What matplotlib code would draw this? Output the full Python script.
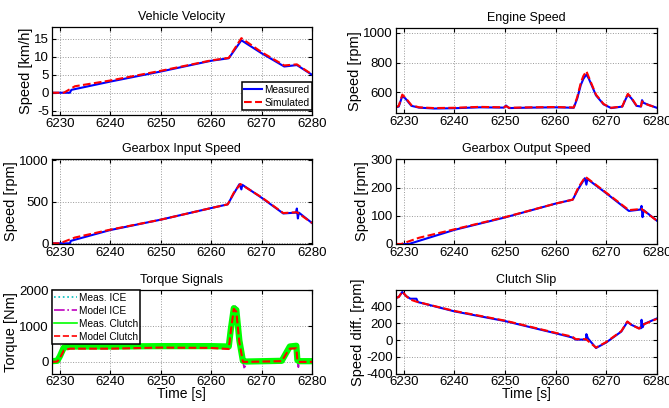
import matplotlib
matplotlib.use("Agg")
import matplotlib.pyplot as plt

plt.rcParams['font.family'] = ['Liberation Sans', 'DejaVu Sans']
plt.rcParams['font.size'] = 10
plt.rcParams['axes.unicode_minus'] = False

XLIM = (6228.4, 6280)
XTICKS = [6230, 6240, 6250, 6260, 6270, 6280]

# vehicle velocity [km/h]
t_vel_meas = [6228.4, 6232.0, 6232.3, 6240, 6250, 6260, 6263.5, 6266.0, 6270, 6274.5, 6277.0, 6280]
vel_meas = [0, 0, 0.8, 3.1, 5.9, 8.9, 9.6, 14.6, 11.0, 7.3, 7.7, 5.0]
t_vel_sim = [6228.4, 6230.8, 6233, 6240, 6250, 6260, 6263.5, 6266.0, 6270, 6274.5, 6277, 6280]
vel_sim = [0, 0, 1.8, 3.4, 6.1, 9.0, 9.7, 15.2, 11.3, 7.6, 7.9, 5.1]

# engine speed [rpm]
t_eng = [6228.4, 6229.0, 6229.7, 6230.3, 6231.5, 6233, 6236, 6240, 6245, 6249.8, 6250.2,
         6250.8, 6255, 6260, 6263.6, 6264.3, 6265.0, 6265.5, 6266.1, 6266.6, 6268, 6269.5,
         6271, 6273.2, 6273.8, 6274.3, 6275, 6276, 6276.9, 6277.1, 6277.4, 6278.5, 6280]
eng_meas = [500, 505, 575, 560, 510, 498, 492, 494, 500, 498, 512, 495, 498, 500, 497, 560,
            650, 690, 720, 690, 580, 520, 495, 505, 550, 585, 560, 510, 505, 548, 530, 515, 497]
eng_sim = [500, 510, 585, 565, 515, 500, 495, 497, 503, 500, 508, 497, 500, 502, 499, 570,
           665, 710, 742, 700, 585, 522, 497, 506, 555, 590, 565, 512, 507, 540, 528, 514, 498]

# gearbox input speed [rpm]
t_gbi_meas = [6228.4, 6232.0, 6232.2, 6240, 6250, 6260, 6263.3, 6264.5, 6265.6, 6266.0,
              6266.2, 6270, 6274.3, 6276.8, 6277.0, 6277.2, 6277.4, 6280]
gbi_meas = [0, 0, 30, 160, 285, 425, 470, 600, 712, 650, 705, 550, 360, 370, 420, 300, 370, 245]
t_gbi_sim = [6228.4, 6230.0, 6233.0, 6240, 6250, 6260, 6263.3, 6264.5, 6265.8, 6270, 6274.3, 6277, 6280]
gbi_sim = [0, 0, 70, 165, 285, 425, 470, 610, 715, 555, 365, 375, 245]

# gearbox output speed [rpm]
t_gbo_meas = [6228.4, 6231.0, 6240, 6250, 6260, 6263.4, 6264.5, 6265.8, 6266.1, 6266.3,
              6270, 6274.5, 6276.8, 6277.0, 6277.2, 6277.4, 6280]
gbo_meas = [0, 0, 50, 94, 143, 157, 195, 233, 210, 230, 180, 117, 122, 135, 95, 120, 83]
t_gbo_sim = [6228.4, 6229.5, 6233, 6240, 6250, 6260, 6263.4, 6264.5, 6265.9, 6270, 6274.5, 6277, 6280]
gbo_sim = [0, 0, 22, 52, 95, 143, 157, 200, 238, 182, 120, 124, 83]

# torque signals [Nm]
t_trq = [6228.4, 6229.5, 6230.0, 6230.8, 6232, 6240, 6250, 6260, 6263.5, 6263.9, 6264.5,
         6265.0, 6265.6, 6266.3, 6266.6, 6267, 6274, 6275.0, 6275.6, 6276.9, 6277.1, 6277.3, 6277.5, 6280]
trq_meas_ice = [10, 40, 160, 390, 410, 400, 420, 420, 400, 880, 1520, 1500, 620, 20, -150, 0, 20,
                260, 400, 420, 40, -100, 20, 10]
trq_model_ice = [0, 30, 140, 360, 380, 380, 400, 400, 380, 900, 1600, 1520, 600, 10, -200, 0, 10,
                 250, 380, 400, 30, -150, 10, 0]
trq_meas_clutch = [20, 30, 150, 400, 430, 430, 440, 440, 430, 900, 1500, 1450, 600, 30, 20, 10, 30,
                   280, 430, 450, 50, 30, 20, 20]
trq_model_clutch = [0, 10, 100, 320, 370, 370, 400, 390, 360, 850, 1480, 1400, 550, 0, 0, 0, 20,
                    250, 370, 380, 30, 0, 0, 0]

# clutch slip [rpm]
t_slip_meas = [6228.4, 6229.0, 6229.7, 6230.5, 6231.3, 6232.5, 6232.8, 6240, 6250, 6260, 6263.3,
               6264, 6266.0, 6266.1, 6266.4, 6268, 6270, 6273, 6274.2, 6275, 6276.5, 6276.9,
               6277.0, 6277.2, 6277.5, 6280]
slip_meas = [500, 510, 570, 520, 490, 490, 450, 340, 225, 80, 30, 5, 5, 70, 20, -95, -30, 100,
             215, 180, 140, 140, 240, 150, 190, 255]
t_slip_sim = [6228.4, 6229.0, 6229.7, 6230.5, 6231.3, 6232.5, 6240, 6250, 6260, 6263.3, 6264,
              6266.0, 6268, 6270, 6273, 6274.2, 6275, 6276.5, 6277.2, 6280]
slip_sim = [500, 510, 575, 520, 480, 455, 345, 230, 85, 40, 10, 10, -90, -25, 105, 220, 180,
            135, 180, 250]


def style(ax, title, ylabel, ylim, yticks, xlabel=None):
    ax.set_xlim(*XLIM)
    ax.set_xticks(XTICKS)
    ax.set_ylim(*ylim)
    ax.set_yticks(yticks)
    ax.set_title(title, fontsize=9, pad=5)
    ax.set_ylabel(ylabel, fontsize=10.5, labelpad=1)
    if xlabel:
        ax.set_xlabel(xlabel, fontsize=10, labelpad=-1)
    ax.grid(True, linestyle=':', color='#999999', linewidth=0.7)
    ax.tick_params(direction='in', top=True, right=True, length=3, labelsize=9.5, pad=2)
    for s in ax.spines.values():
        s.set_linewidth(0.9)


def legend(ax, **kw):
    leg = ax.legend(fontsize=7.3, fancybox=False, framealpha=1, edgecolor='black',
                    handletextpad=0.2, borderpad=0.25, labelspacing=0.3, **kw)
    leg.get_frame().set_linewidth(1.1)
    return leg


fig = plt.figure(figsize=(6.69, 4.08), dpi=100)
W, H = 669.0, 408.0


def box(l, t, r, b):
    return [l / W, (H - b) / H, (r - l) / W, (b - t) / H]


ax1 = fig.add_axes(box(51.7, 27, 312, 115))
ax2 = fig.add_axes(box(395.7, 28, 656.7, 113.3))
ax3 = fig.add_axes(box(51.7, 158.7, 312, 244))
ax4 = fig.add_axes(box(395.7, 158.7, 656.7, 244))
ax5 = fig.add_axes(box(51.7, 290.3, 312, 373.7))
ax6 = fig.add_axes(box(395.7, 290.3, 656.7, 373.7))

ax1.plot(t_vel_meas, vel_meas, color='b', lw=1.5, label='Measured')
ax1.plot(t_vel_sim, vel_sim, color='r', lw=1.5, ls='--', label='Simulated')
style(ax1, 'Vehicle Velocity', 'Speed [km/h]', (-6.2, 18.3), [-5, 0, 5, 10, 15])
legend(ax1, loc='lower right', bbox_to_anchor=(1.0, 0.055), borderaxespad=0.0, handlelength=1.8)

ax2.plot(t_eng, eng_meas, color='b', lw=1.5)
ax2.plot(t_eng, eng_sim, color='r', lw=1.5, ls='--')
style(ax2, 'Engine Speed', 'Speed [rpm]', (460, 1031), [600, 800, 1000])

ax3.plot(t_gbi_meas, gbi_meas, color='b', lw=1.5)
ax3.plot(t_gbi_sim, gbi_sim, color='r', lw=1.5, ls='--')
style(ax3, 'Gearbox Input Speed', 'Speed [rpm]', (-8, 1020), [0, 500, 1000])

ax4.plot(t_gbo_meas, gbo_meas, color='b', lw=1.5)
ax4.plot(t_gbo_sim, gbo_sim, color='r', lw=1.5, ls='--')
style(ax4, 'Gearbox Output Speed', 'Speed [rpm]', (0, 302), [0, 100, 200, 300])

ax5.plot(t_trq, trq_meas_ice, color='c', lw=1.0, ls=':', label='Meas. ICE')
ax5.plot(t_trq, trq_model_ice, color='m', lw=1.2, ls='-.', label='Model ICE')
ax5.plot(t_trq, trq_meas_clutch, color='#00ff00', lw=4.5, label='Meas. Clutch')
ax5.plot(t_trq, trq_model_clutch, color='r', lw=1.5, ls='--', label='Model Clutch')
style(ax5, 'Torque Signals', 'Torque [Nm]', (-330, 2000), [0, 1000, 2000], xlabel='Time [s]')
leg5 = legend(ax5, loc='upper left', borderaxespad=0.0, handlelength=2.2)
for h in leg5.legend_handles:
    h.set_linewidth(1.2)

ax6.plot(t_slip_meas, slip_meas, color='b', lw=1.5)
ax6.plot(t_slip_sim, slip_sim, color='r', lw=1.5, ls='--')
style(ax6, 'Clutch Slip', 'Speed diff. [rpm]', (-400, 590), [-400, -200, 0, 200, 400], xlabel='Time [s]')

fig.savefig('out.png', dpi=100)
